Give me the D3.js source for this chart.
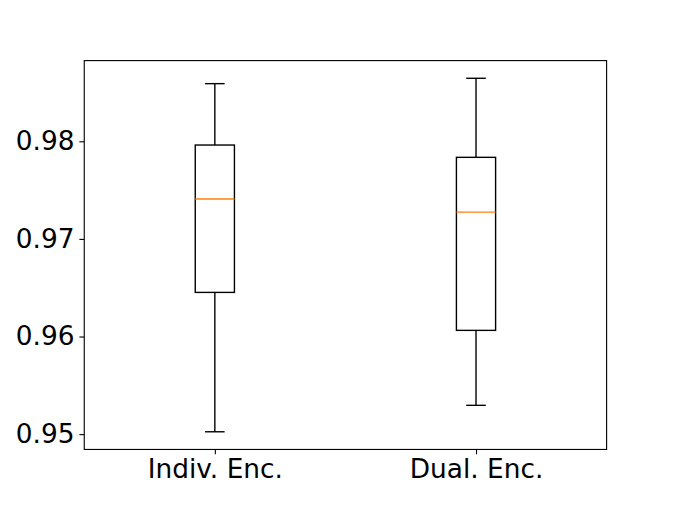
<!DOCTYPE html>
<html><head><meta charset="utf-8">
<script src="https://cdn.jsdelivr.net/npm/d3@7"></script>
<style>body{margin:0;background:#fff;} svg{display:block;}</style>
</head><body>
<svg id="c" width="674" height="505"></svg>
<script>
const categories = ["Indiv. Enc.", "Dual. Enc."];
const whiskerLow = [0.95024, 0.95295];
const q1 = [0.96452, 0.96063];
const medians = [0.97409, 0.97275];
const q3 = [0.97962, 0.97836];
const whiskerHigh = [0.98591, 0.98646];
const yTicks = [0.95, 0.96, 0.97, 0.98];

(function () {
const mLeft = 84.25, mRight = 606.6, mTop = 60.6, mBottom = 449.45;
const svg = d3.select("#c");

const lo = d3.min(whiskerLow), hi = d3.max(whiskerHigh), pad = (hi - lo) * 0.05;
const y = d3.scaleLinear().domain([lo - pad, hi + pad]).range([mBottom, mTop]);
const x = d3.scaleLinear().domain([0.5, 2.5]).range([mLeft, mRight]);
const pos = categories.map((c, i) => i + 1);
const bw = 0.15, cw = 0.075;

const g = svg.append("g");
categories.forEach((c, i) => {
  const p = pos[i];
  const lw = 1.39;
  g.append("line").attr("x1", x(p)).attr("x2", x(p)).attr("y1", y(q1[i])).attr("y2", y(whiskerLow[i])).attr("stroke", "#000").attr("stroke-width", lw);
  g.append("line").attr("x1", x(p)).attr("x2", x(p)).attr("y1", y(q3[i])).attr("y2", y(whiskerHigh[i])).attr("stroke", "#000").attr("stroke-width", lw);
  [whiskerLow[i], whiskerHigh[i]].forEach(v => {
    g.append("line").attr("x1", x(p - cw / 2)).attr("x2", x(p + cw / 2)).attr("y1", y(v)).attr("y2", y(v)).attr("stroke", "#000").attr("stroke-width", lw);
  });
  g.append("rect").attr("x", x(p - bw / 2)).attr("y", y(q3[i])).attr("width", x(p + bw / 2) - x(p - bw / 2)).attr("height", y(q1[i]) - y(q3[i]))
    .attr("fill", "none").attr("stroke", "#000").attr("stroke-width", lw);
  g.append("line").attr("x1", x(p - bw / 2)).attr("x2", x(p + bw / 2)).attr("y1", y(medians[i])).attr("y2", y(medians[i])).attr("stroke", "#ff7f0e").attr("stroke-width", lw);
});

const font = "DejaVu Sans";
const yAxis = svg.append("g").attr("transform", `translate(${mLeft},0)`)
  .call(d3.axisLeft(y).tickValues(yTicks).tickFormat(d3.format(".2f")).tickSize(4.86).tickPadding(4.86));
const xAxis = svg.append("g").attr("transform", `translate(0,${mBottom})`)
  .call(d3.axisBottom(x).tickValues(pos).tickFormat((d, i) => categories[i]).tickSize(4.86).tickPadding(4.86));
[yAxis, xAxis].forEach(a => {
  a.select(".domain").remove();
  a.selectAll(".tick line").attr("stroke", "#000").attr("stroke-width", 1.11);
  a.selectAll(".tick text").attr("fill", "#000").style("font-family", font).style("font-size", "26.4px");
});

svg.append("rect").attr("x", mLeft).attr("y", mTop).attr("width", mRight - mLeft).attr("height", mBottom - mTop)
  .attr("fill", "none").attr("stroke", "#000").attr("stroke-width", 1.11);
})();
</script>
</body></html>
